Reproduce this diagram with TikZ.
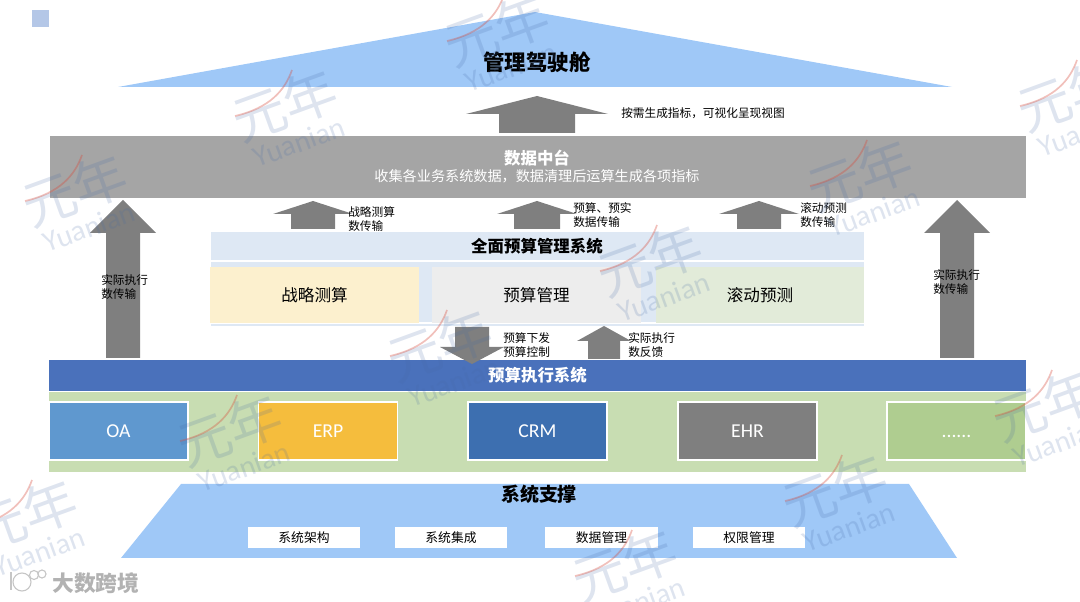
\documentclass[tikz,border=0pt]{standalone}
\usepackage{fontspec}
\setmainfont{Noto Sans CJK SC}
\newfontfamily\latinfont{Carlito}
\usetikzlibrary{positioning}
\definecolor{roof}{RGB}{159,200,247}
\definecolor{slate}{RGB}{165,165,165}
\definecolor{arrowgrey}{RGB}{127,127,127}
\definecolor{paleblue}{RGB}{222,232,244}
\definecolor{cream}{RGB}{252,240,206}
\definecolor{mist}{RGB}{237,237,237}
\definecolor{sage}{RGB}{226,235,217}
\definecolor{royal}{RGB}{74,113,187}
\definecolor{meadow}{RGB}{200,221,178}
\definecolor{oablue}{RGB}{95,152,207}
\definecolor{erpgold}{RGB}{245,189,61}
\definecolor{crmblue}{RGB}{61,111,176}
\definecolor{moss}{RGB}{175,205,144}
\definecolor{markblue}{RGB}{70,105,165}
\definecolor{markred}{RGB}{215,75,60}
\definecolor{corner}{RGB}{180,199,231}
\newcommand{\moredots}{\vphantom{E}......}
\tikzset{
  panel/.style={fill=#1,inner sep=0pt},
  head/.style={font=\fontsize{11.7}{14}\selectfont\bfseries},
  budget box/.style={fill=#1,minimum width=5.2cm,minimum height=1.4cm,inner sep=0pt,
    font=\fontsize{11.8}{14}\selectfont},
  sys box/.style={draw=white,fill=#1,text=white,thick,minimum width=3.475cm,minimum height=1.45cm,
    inner sep=0pt,font=\latinfont\fontsize{14}{16}\selectfont},
  base box/.style={fill=white,minimum width=2.8cm,minimum height=.525cm,inner sep=0pt,
    font=\fontsize{9.1}{11}\selectfont},
  tag/.style={anchor=west,align=left,inner sep=0pt,font=\fontsize{8.3}{10}\selectfont},
  % watermark
  pics/mark/.style={code={
    \node[rotate=20,text=markblue,opacity=.18,font=\fontsize{38}{40}\selectfont] (logo) at (0,0) {元年};
    \node[rotate=20,text=markblue,opacity=.18,font=\latinfont\fontsize{21}{23}\selectfont] (word) at (14,37) {Yuanian};
    \draw[markred,opacity=.35,line width=1.2pt] (-50,11) .. controls (-15,3) and (0,-15) .. (7,-35);
  }},
}
\begin{document}
\begin{tikzpicture}[x=.025cm,y=-.025cm]
  \useasboundingbox (0,0) rectangle (1080,602);
  \fill[corner] (32,10) rectangle (49,27);
  % top and bottom blocks
  \fill[roof] (118,87) -- (535,12) -- (952,87) -- cycle;
  \node[font=\fontsize{15.3}{18}\selectfont\bfseries] (cockpit) at (537,62) {管理驾驶舱};
  \fill[roof] (181,484) -- (909,484) -- (957,558) -- (121,558) -- cycle;
  \node[font=\fontsize{13.5}{16}\selectfont\bfseries] (support) at (539,494) {系统支撑};
  % data platform
  \node[panel=slate,minimum width=24.4cm,minimum height=1.55cm] (platform) at (538,167) {};
  \node[head,text=white] (platformtitle) at (537,158) {数据中台};
  \node[text=white,font=\fontsize{10.05}{12}\selectfont] (platformtext) at (537,176) {收集各业务系统数据，数据清理后运算生成各项指标};
  % budget system
  \fill[paleblue] (211,232) rectangle (864,326);
  \draw[white,thick] (211,261) -- (864,261) (211,323) -- (864,323);
  \node[head] (budgettitle) at (537,246) {全面预算管理系统};
  \foreach \n/\x/\t/\c in {strategy/314.5/战略测算/cream,plan/536.5/预算管理/mist,rolling/760/滚动预测/sage}{
    \node[budget box=\c] (\n) at (\x,295) {\t};
  }
  % execution system
  \node[panel=meadow,minimum width=24.425cm,minimum height=2cm] (green) at (537.5,432) {};
  \node[panel=royal,draw=white,thick,minimum width=24.425cm,minimum height=.8cm,text=white,
    font=\fontsize{11.7}{14}\selectfont\bfseries] (exec) at (537.5,375.5) {预算执行系统};
  \foreach \n/\x/\t/\c in {oa/118.5/OA/oablue,erp/328/ERP/erpgold,crm/537.5/CRM/crmblue,ehr/747.5/EHR/arrowgrey,more/956.5/\moredots/moss}{
    \node[sys box=\c] (\n) at (\x,431) {\t};
  }
  \foreach \n/\x/\t in {arch/304/系统架构,integ/451/系统集成,data/601.5/数据管理,auth/749/权限管理}{
    \node[base box] (\n) at (\x,537.5) {\t};
  }
  % block arrows: centre, half head, half shaft, apex, shoulder, foot
  \foreach \c/\h/\s/\a/\b/\f in {537/71/38/96/114/133,313/40/22/201/214/229,537/40/23/201/214/229,
      759/40/22/201/214/229,123/33/17/200/233/358,957/33/17/200/233/358,604/27/16/326/341/359,
      472/32/17/364/347/327}{
    \fill[arrowgrey] (\c,\a) -- (\c+\h,\b) -- (\c+\s,\b) -- (\c+\s,\f) -- (\c-\s,\f) -- (\c-\s,\b) -- (\c-\h,\b) -- cycle;
  }
  % arrow labels
  \node[tag] (tagview) at (621,113) {按需生成指标，可视化呈现视图};
  \foreach \n/\x/\y/\t in {tagstrategy/348/219/战略测算\\数传输,tagplan/573/215/预算、预实\\数据传输,
      tagrolling/800/215/滚动预测\\数传输,tagleft/101/287/实际执行\\数传输,tagright/933/282/实际执行\\数传输,
      tagdown/503/345/预算下发\\预算控制,tagup/628/345/实际执行\\数反馈}{
    \node[tag] (\n) at (\x,\y) {\t};
  }
  % watermarks
  \foreach \x/\y in {497/30,285/105,75/190,1070/95,860/175,650/260,440/345,230/430,25/515,1045/405,835/490,625/565}{
    \pic at (\x,\y) {mark};
  }
  \node[text=gray!60,font=\fontsize{15.5}{18}\selectfont\bfseries] (source) at (96,583) {大数跨境};
  \draw[gray!45,thick] (11,572) -- (11,590);
  \foreach \x/\y/\r in {22/582/9,34/575/4.5,42/574/4}{
    \draw[gray!45,thick] (\x,\y) circle (\r);
  }
\end{tikzpicture}
\end{document}
